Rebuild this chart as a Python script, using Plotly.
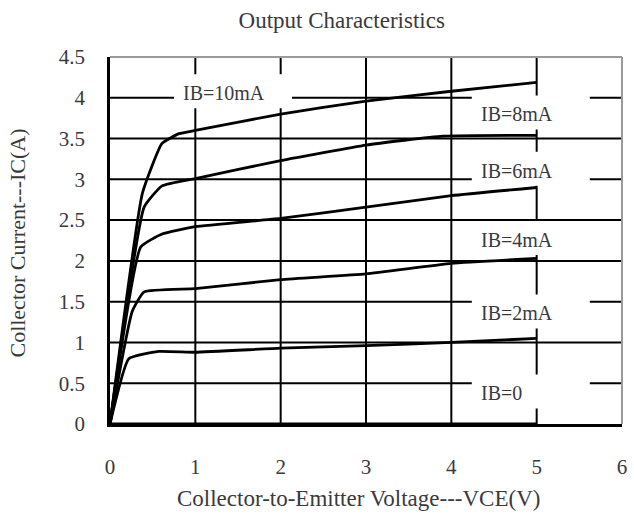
import plotly.graph_objects as go

# Output characteristics: collector current vs collector-emitter voltage
vce_10 = [0, 0.38, 0.61, 0.81, 1.0, 2.0, 3.0, 4.0, 5.0]
ic_10 = [0, 2.83, 3.44, 3.56, 3.60, 3.80, 3.96, 4.08, 4.19]

vce_8 = [0, 0.40, 0.61, 1.0, 2.0, 3.0, 3.9, 5.0]
ic_8 = [0, 2.66, 2.92, 3.01, 3.23, 3.42, 3.53, 3.54]

vce_6 = [0, 0.36, 0.61, 1.0, 2.0, 3.0, 4.0, 5.0]
ic_6 = [0, 2.17, 2.33, 2.42, 2.52, 2.66, 2.80, 2.90]

vce_4 = [0, 0.26, 0.40, 1.0, 2.0, 3.0, 4.0, 5.0]
ic_4 = [0, 1.38, 1.62, 1.66, 1.77, 1.84, 1.97, 2.03]

vce_2 = [0, 0.22, 0.57, 1.0, 2.0, 3.0, 4.0, 5.0]
ic_2 = [0, 0.80, 0.89, 0.88, 0.93, 0.96, 1.00, 1.05]

vce_0 = [0, 5.0]
ic_0 = [0, 0]

curve_names = ["IB=10mA", "IB=8mA", "IB=6mA", "IB=4mA", "IB=2mA", "IB=0"]

x_ticks = [0, 1, 2, 3, 4, 5, 6]
y_ticks = [0, 0.5, 1, 1.5, 2, 2.5, 3, 3.5, 4, 4.5]
y_tick_text = ["0", "0.5", "1", "1.5", "2", "2.5", "3", "3.5", "4", "4.5"]

FONT = "Liberation Serif, Times New Roman, serif"
TEXT = "#3a3a3a"

series = [
    (vce_10, ic_10), (vce_8, ic_8), (vce_6, ic_6),
    (vce_4, ic_4), (vce_2, ic_2), (vce_0, ic_0),
]

fig = go.Figure()
for (xs, ys), name in zip(series, curve_names):
    fig.add_trace(go.Scatter(
        x=xs, y=ys, mode="lines", name=name,
        line=dict(color="black", width=2.8, shape="spline", smoothing=0.4),
        showlegend=False, hoverinfo="skip",
    ))

shapes = []
# interior grid
for v in x_ticks[1:-1]:
    shapes.append(dict(type="line", layer="below", xref="x", yref="paper",
                       x0=v, x1=v, y0=0, y1=1,
                       line=dict(color="black", width=2)))
for v in y_ticks[1:-1]:
    shapes.append(dict(type="line", layer="below", xref="paper", yref="y",
                       x0=0, x1=1, y0=v, y1=v,
                       line=dict(color="black", width=2)))
# light top and right frame
shapes.append(dict(type="line", xref="paper", yref="paper", x0=0, x1=1, y0=1, y1=1,
                   line=dict(color="#9a9a9a", width=2)))
shapes.append(dict(type="line", xref="paper", yref="paper", x0=1, x1=1, y0=0, y1=1,
                   line=dict(color="#9a9a9a", width=2)))

# label placement (box left edge in VCE, box centre in IC)
label_pos = [(0.75, 4.08), (4.24, 3.82), (4.24, 3.13), (4.24, 2.28), (4.24, 1.38), (4.24, 0.40)]
annotations = []
for name, (lx, ly) in zip(curve_names, label_pos):
    shapes.append(dict(type="rect", layer="below", xref="x", yref="y",
                       xsizemode="pixel", ysizemode="pixel",
                       xanchor=lx, yanchor=ly, x0=0, x1=118, y0=-17, y1=17,
                       fillcolor="white", line=dict(width=0)))
    annotations.append(dict(x=lx, y=ly, xref="x", yref="y", text=name,
                            showarrow=False, xanchor="left", yanchor="middle",
                            xshift=7, yshift=-2,
                            font=dict(family=FONT, size=20, color=TEXT)))

annotations.append(dict(x=0.486, y=-0.203, xref="paper", yref="paper",
                        text="Collector-to-Emitter Voltage---VCE(V)", showarrow=False,
                        xanchor="center", yanchor="middle",
                        font=dict(family=FONT, size=23, color=TEXT)))
annotations.append(dict(x=-0.18, y=0.494, xref="paper", yref="paper",
                        text="Collector Current---IC(A)", showarrow=False, textangle=-90,
                        xanchor="center", yanchor="middle",
                        font=dict(family=FONT, size=22, color=TEXT)))

fig.update_layout(
    width=634, height=515,
    margin=dict(l=110, r=7, t=57, b=91),
    paper_bgcolor="white", plot_bgcolor="white",
    title=dict(text="Output Characteristics", x=0.539, xanchor="center",
               y=0.962, yanchor="middle",
               font=dict(family=FONT, size=23, color=TEXT)),
    shapes=shapes, annotations=annotations,
    xaxis=dict(range=[0, 6], tickvals=x_ticks, ticktext=[str(v) for v in x_ticks],
               showgrid=False, zeroline=False, ticks="", showline=True,
               linecolor="black", linewidth=2.5, ticklabelstandoff=22,
               tickfont=dict(family=FONT, size=21, color=TEXT)),
    yaxis=dict(range=[0, 4.5], tickvals=y_ticks, ticktext=y_tick_text,
               showgrid=False, zeroline=False, ticks="", showline=True,
               linecolor="black", linewidth=2.5, ticklabelstandoff=18,
               tickfont=dict(family=FONT, size=21, color=TEXT)),
)

fig.write_html("out.html")
